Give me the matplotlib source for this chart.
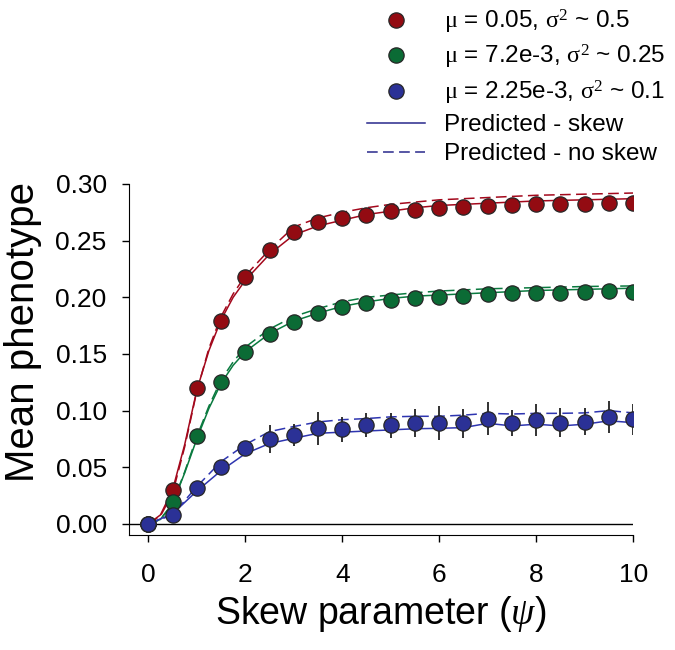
import numpy as np
import matplotlib
matplotlib.use('Agg')
import matplotlib.pyplot as plt
from matplotlib.lines import Line2D

plt.rcParams['font.family'] = ['Liberation Sans', 'DejaVu Sans']
plt.rcParams['mathtext.fontset'] = 'custom'
plt.rcParams['mathtext.rm'] = 'Liberation Serif'
plt.rcParams['mathtext.it'] = 'Liberation Serif:italic'
plt.rcParams['mathtext.default'] = 'rm'

# simulated means (psi = 0, 0.5, ..., 10)
psi = [0, 0.5, 1, 1.5, 2, 2.5, 3, 3.5, 4, 4.5, 5, 5.5, 6, 6.5, 7, 7.5, 8, 8.5, 9, 9.5, 10]
red_mean = [0, 0.030, 0.120, 0.179, 0.218, 0.242, 0.258, 0.266, 0.270, 0.273, 0.276,
            0.277, 0.279, 0.280, 0.2806, 0.2812, 0.282, 0.2824, 0.2826, 0.2835, 0.283]
green_mean = [0, 0.019, 0.078, 0.125, 0.152, 0.168, 0.178, 0.186, 0.191, 0.1947, 0.1977,
              0.1997, 0.200, 0.2015, 0.203, 0.2035, 0.2035, 0.204, 0.2047, 0.2053, 0.205]
blue_mean = [0, 0.008, 0.032, 0.0506, 0.0670, 0.0747, 0.0785, 0.0844, 0.0835, 0.0872, 0.0871,
             0.0888, 0.0891, 0.0888, 0.0930, 0.0894, 0.0918, 0.0894, 0.0903, 0.0945, 0.0924]
blue_err = [0, 0.003, 0.004, 0.005, 0.006, 0.0125, 0.0099, 0.0144, 0.011, 0.0107, 0.011,
            0.0124, 0.0147, 0.0126, 0.0147, 0.0115, 0.0141, 0.013, 0.0122, 0.0144, 0.0137]

# predicted curves, red and green on a finer psi grid
pred_psi = [0, 0.25, 0.5, 0.75, 1, 1.25, 1.5, 1.75, 2, 2.5, 3, 3.5, 4, 4.5, 5,
            5.5, 6, 6.5, 7, 7.5, 8, 8.5, 9, 9.5, 10]
red_skew = [0, 0.008, 0.030, 0.070, 0.118, 0.153, 0.180, 0.200, 0.215, 0.238, 0.255, 0.263,
            0.268, 0.273, 0.276, 0.279, 0.281, 0.282, 0.283, 0.284, 0.285, 0.2855, 0.286, 0.2865, 0.287]
red_noskew = [0, 0.007, 0.027, 0.068, 0.117, 0.155, 0.183, 0.203, 0.219, 0.242, 0.262, 0.270,
              0.275, 0.279, 0.282, 0.284, 0.286, 0.287, 0.288, 0.289, 0.290, 0.2905, 0.291, 0.2915, 0.292]
green_skew = [0, 0.004, 0.018, 0.045, 0.075, 0.102, 0.124, 0.140, 0.152, 0.168, 0.179, 0.186,
              0.192, 0.196, 0.199, 0.201, 0.202, 0.203, 0.204, 0.205, 0.206, 0.2065, 0.207, 0.2075, 0.208]
green_noskew = [0, 0.004, 0.018, 0.046, 0.077, 0.104, 0.127, 0.143, 0.156, 0.172, 0.183, 0.190,
                0.196, 0.200, 0.202, 0.204, 0.2055, 0.2065, 0.2075, 0.208, 0.2085, 0.209, 0.2095, 0.2098, 0.210]
blue_skew = [0, 0.009, 0.029, 0.047, 0.062, 0.071, 0.0756, 0.080, 0.081, 0.082, 0.083,
             0.084, 0.0844, 0.085, 0.0888, 0.0865, 0.088, 0.0865, 0.088, 0.091, 0.0894]
blue_noskew = [0, 0.008, 0.033, 0.055, 0.070, 0.0815, 0.086, 0.090, 0.092, 0.093, 0.0945,
               0.095, 0.095, 0.096, 0.0976, 0.097, 0.0976, 0.0976, 0.098, 0.100, 0.098]

labels = ['$\\mu$ = 0.05, $\\sigma^{2}$ ~ 0.5',
          '$\\mu$ = 7.2e-3, $\\sigma^{2}$ ~ 0.25',
          '$\\mu$ = 2.25e-3, $\\sigma^{2}$ ~ 0.1']
dot_colors = ['#930b12', '#0b6b35', '#2b3196']
line_colors = ['#a3081c', '#0a7a3f', '#2e35b0']

fig = plt.figure(figsize=(6.75, 6.5), dpi=100)
ax = fig.add_axes([0.191, 0.177, 0.747, 0.54])

ax.axhline(0, color='black', lw=1, zorder=1)

ax.plot(pred_psi, red_skew, '-', color=line_colors[0], lw=1.1, zorder=2)
ax.plot(pred_psi, red_noskew, '--', color=line_colors[0], lw=1.1, dashes=(7, 3.5), zorder=2)
ax.plot(pred_psi, green_skew, '-', color=line_colors[1], lw=1.1, zorder=2)
ax.plot(pred_psi, green_noskew, '--', color=line_colors[1], lw=1.1, dashes=(7, 3.5), zorder=2)
ax.plot(psi, blue_skew, '-', color=line_colors[2], lw=1.1, zorder=2)
ax.plot(psi, blue_noskew, '--', color=line_colors[2], lw=1.1, dashes=(7, 3.5), zorder=2)

ax.errorbar(psi, blue_mean, yerr=blue_err, fmt='none', ecolor='#222222', elinewidth=1.3, capsize=0, zorder=3)

for means, c in zip([red_mean, green_mean, blue_mean], dot_colors):
    ax.plot(psi, means, 'o', ms=11, mfc=c, mec='#262626', mew=0.9, zorder=4)

ax.set_xlim(-0.4, 10)
ax.set_ylim(-0.0097, 0.30)
ax.set_xticks([0, 2, 4, 6, 8, 10])
ax.set_yticks([0, 0.05, 0.10, 0.15, 0.20, 0.25, 0.30])
ax.set_yticklabels(['0.00', '0.05', '0.10', '0.15', '0.20', '0.25', '0.30'])
ax.spines['top'].set_visible(False)
ax.spines['right'].set_visible(False)
ax.tick_params(direction='out', length=5, width=1, labelsize=19)
ax.tick_params(axis='y', pad=11)
ax.tick_params(axis='x', pad=15)
ax.set_xlabel('Skew parameter ($\\mathit{\\psi}$)', fontsize=27, labelpad=5)
ax.set_ylabel('Mean phenotype', fontsize=29)
ax.yaxis.set_label_coords(-0.173, 0.578)

handles = [Line2D([], [], ls='none', marker='o', ms=11, mfc=c, mec='#262626', mew=0.9) for c in dot_colors]
handles += [Line2D([], [], color='#28288c', lw=1.1),
            Line2D([], [], color='#28288c', lw=1.1, ls='--', dashes=(7, 3.5))]
leg = fig.legend(handles, labels + ['Predicted - skew', 'Predicted - no skew'],
                 loc='upper right', bbox_to_anchor=(1.017, 1.022), frameon=False,
                 fontsize=17.5, handlelength=2.4, handletextpad=0.75, labelspacing=0.3)

fig.savefig('out.png', dpi=100)
